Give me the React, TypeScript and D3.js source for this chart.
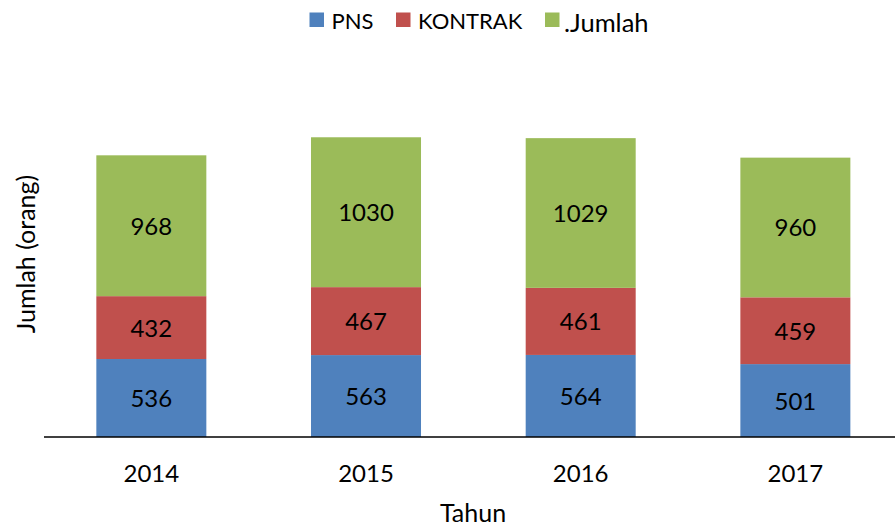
import { useCallback, useEffect, useRef } from "react";
import * as d3 from "d3";

const years = ["2014", "2015", "2016", "2017"];
const pns = [536, 563, 564, 501];
const kontrak = [432, 467, 461, 459];
const jumlah = [968, 1030, 1029, 960];
const seriesNames = ["PNS", "KONTRAK", ".Jumlah"];
const seriesColors = ["#4F81BD", "#C0504D", "#9BBB59"];

const width = 895;
const height = 525;
const font = "Lato, 'Open Sans', sans-serif";

export default function App() {
  const chart = useRef<SVGSVGElement | null>(null);

  const drawChart = useCallback(() => {
    const svg = d3.select(chart.current);
    svg.selectAll("*").remove();
    svg.attr("width", width).attr("height", height);

    const rows = years.map((year, i) => ({ year, pns: pns[i], kontrak: kontrak[i], jumlah: jumlah[i] }));
    const keys = ["pns", "kontrak", "jumlah"];
    const stacked = d3.stack<any>().keys(keys)(rows);

    const x = d3.scaleBand<string>()
      .domain(years)
      .range([44, 902.7])
      .paddingInner(0.4876)
      .paddingOuter(0.2438);
    const y = d3.scaleLinear().domain([0, 2000]).range([437, 146]);

    const layers = svg.selectAll("g.layer")
      .data(stacked)
      .enter()
      .append("g")
      .attr("class", "layer")
      .attr("fill", (d, i) => seriesColors[i]);

    layers.selectAll("rect")
      .data((d) => d)
      .enter()
      .append("rect")
      .attr("x", (d) => x(d.data.year)!)
      .attr("width", x.bandwidth())
      .attr("y", (d) => y(d[1]))
      .attr("height", (d) => y(d[0]) - y(d[1]));

    layers.selectAll("text")
      .data((d) => d)
      .enter()
      .append("text")
      .attr("x", (d) => x(d.data.year)! + x.bandwidth() / 2)
      .attr("y", (d) => (y(d[0]) + y(d[1])) / 2 + 9)
      .attr("text-anchor", "middle")
      .attr("fill", "#000")
      .attr("font-family", font)
      .attr("font-size", "24px")
      .text((d) => d[1] - d[0]);

    // baseline
    svg.append("line")
      .attr("x1", 44)
      .attr("x2", width)
      .attr("y1", y(0))
      .attr("y2", y(0))
      .attr("stroke", "#000")
      .attr("stroke-width", 1.6);

    svg.append("g")
      .selectAll("text")
      .data(years)
      .enter()
      .append("text")
      .attr("x", (d) => x(d)! + x.bandwidth() / 2)
      .attr("y", 481.5)
      .attr("text-anchor", "middle")
      .attr("font-family", font)
      .attr("font-size", "24px")
      .text((d) => d);

    svg.append("text")
      .attr("x", 473)
      .attr("y", 521.5)
      .attr("text-anchor", "middle")
      .attr("font-family", font)
      .attr("font-size", "25px")
      .text("Tahun");

    svg.append("text")
      .attr("transform", "translate(34.5,254) rotate(-90)")
      .attr("text-anchor", "middle")
      .attr("font-family", font)
      .attr("font-size", "25px")
      .text("Jumlah (orang)");

    // legend
    const legendX = [309.5, 396, 545];
    const legend = svg.append("g")
      .selectAll("g")
      .data(seriesNames)
      .enter()
      .append("g")
      .attr("transform", (d, i) => `translate(${legendX[i]},0)`);
    legend.append("rect")
      .attr("x", 0)
      .attr("y", 12.5)
      .attr("width", 14.5)
      .attr("height", 14.5)
      .attr("fill", (d, i) => seriesColors[i]);
    legend.append("text")
      .attr("x", (d, i) => (i === 2 ? 19 : 22))
      .attr("y", (d, i) => (i === 2 ? 31.5 : 28.5))
      .attr("font-family", font)
      .attr("font-size", (d, i) => (i === 2 ? "25.5px" : "22px"))
      .text((d) => d);
  }, []);

  useEffect(() => {
    drawChart();
  }, [drawChart]);

  return <svg ref={chart} style={{ position: "absolute", left: 0, top: 0, background: "#fff" }}></svg>;
}
